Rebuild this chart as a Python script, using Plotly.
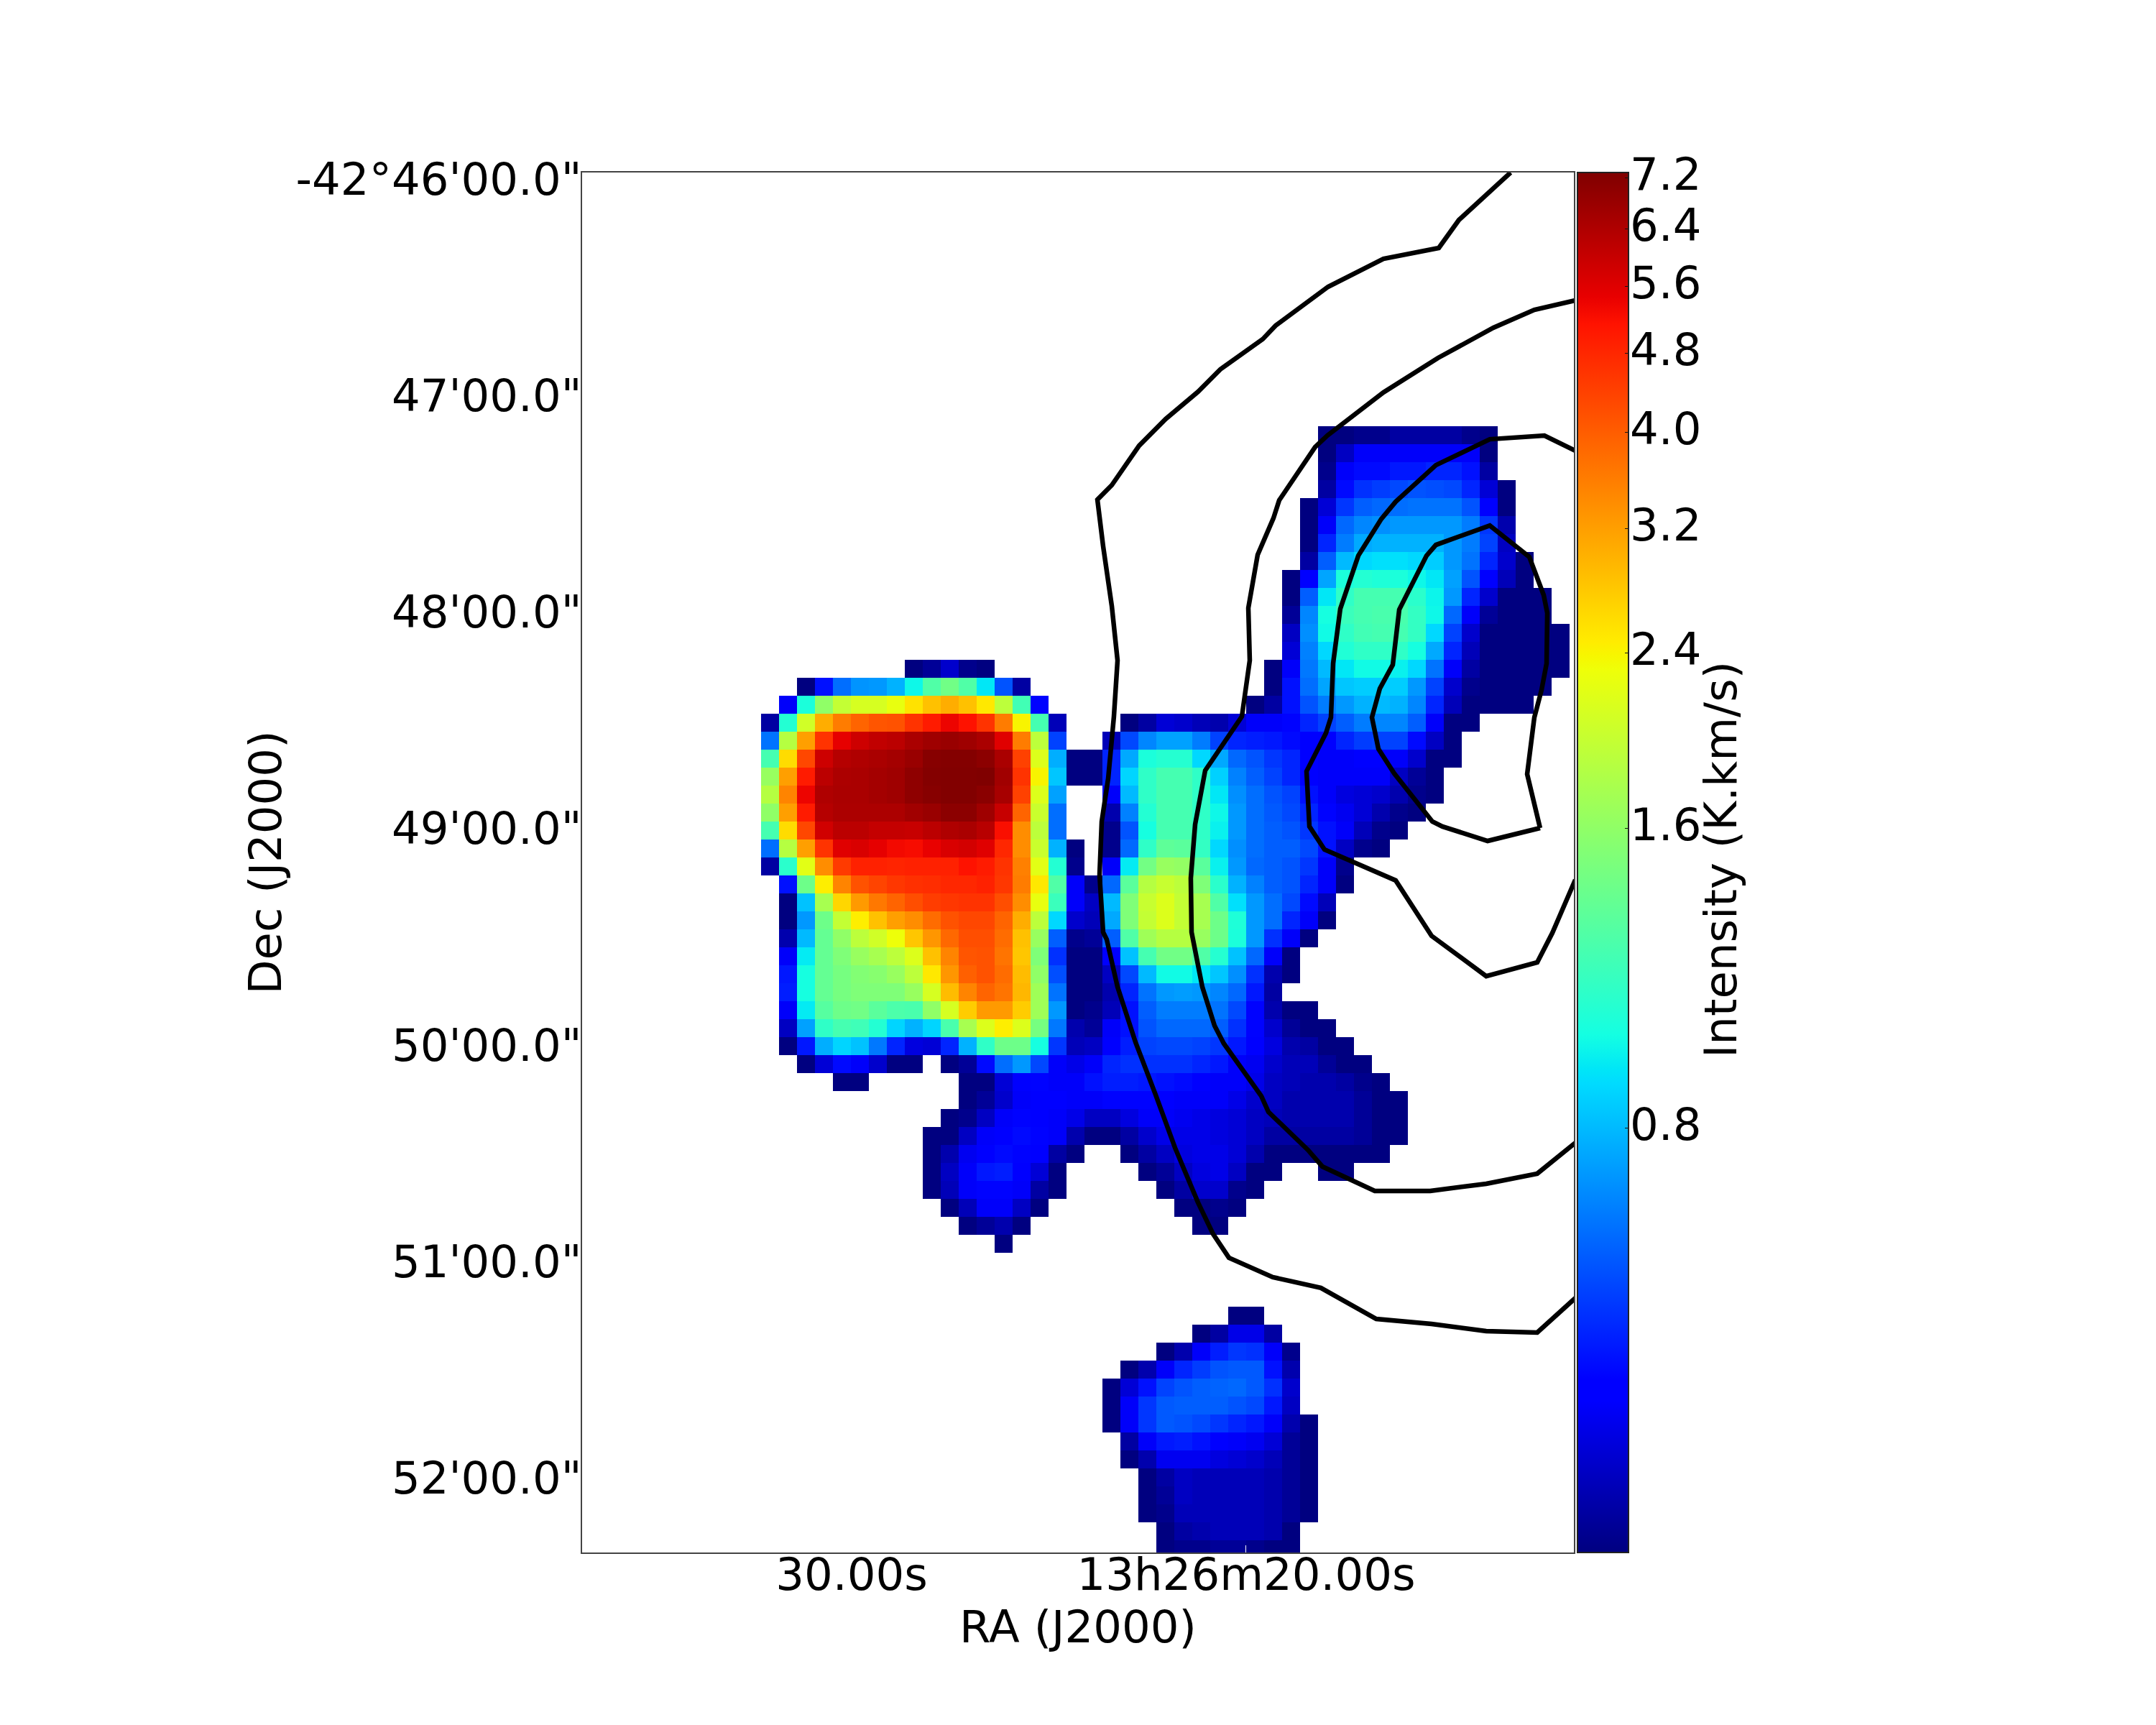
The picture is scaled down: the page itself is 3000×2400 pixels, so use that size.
import math
import plotly.graph_objects as go

N = None
# Integrated intensity (K.km/s), one list per map row, north to south.
rm13 = [.30,.30,.31,.31,.33,.33,.33,.33,.31,.30]
rm12 = [.30,.36,.42,.42,.42,.42,.42,.42,.42,.30]
rm11 = [.31,.42,.46,.46,.48,.48,.5,.5,.47,.33]
rm10 = [.33,.46,.52,.54,.56,.58,.57,.56,.5,.38,.30]
rm9 = [.30,.38,.53,.6,.62,.63,.64,.64,.64,.58,.44,.30]
rm8 = [.30,.42,.62,.68,.7,.72,.72,.72,.72,.66,.53,.34]
rm7 = [.30,.5,.66,.76,.78,.78,.78,.78,.72,.66,.55,.36]
rm6 = [.33,.6,.8,.88,.9,.9,.88,.85,.72,.64,.5,.37,.30]
rm5 = [.30,.44,.75,1.02,1.05,1.03,1.02,.97,.92,.74,.58,.43,.35,.30]
rm4 = [.30,.6,.92,1.1,1.2,1.2,1.2,1.08,.96,.72,.5,.37,.30,.30,.30]
rm3 = [.32,.68,1.0,1.15,1.2,1.22,1.22,1.12,.97,.62,.42,.32,.30,.30,.30]
rm2 = [.36,.7,.98,1.1,1.18,1.2,1.2,1.12,.88,.55,.37,.30,.30,.30,.30,.30]
rm1 = [.38,.67,.88,1.04,1.1,1.1,1.1,1.0,.76,.5,.35,.30,.30,.30,.30,.30]
r0 = [.30,.32,.37,.31,.30] + [N]*15 + [.30,.42,.65,.8,.92,.98,.98,.95,.88,.64,.42,.33,.30,.30,.30,.30,.30]
r1 = [.30,.47,.63,.71,.72,.78,.97,1.25,1.42,1.25,.92,.58,.33] + [N]*13 + [.30,.47,.63,.75,.83,.85,.85,.85,.72,.55,.37,.31,.30,.30,.30,.30]
r2 = [.42,1.02,1.6,1.95,2.1,2.1,2.25,2.55,2.85,3.05,2.85,2.5,1.9,1.18,.45] + [N]*11 + [.30,.33,.47,.58,.66,.72,.78,.80,.78,.68,.5,.35,.30,.30,.30,.30]
r3 = [.33,1.05,2.05,3.05,3.6,3.9,4.1,4.15,4.6,5.0,5.4,5.15,4.6,3.6,2.4,1.2,.35] + [N]*3 + [.30,.33,.38,.37,.35,.34,.38,.42,.42,.45,.5,.55,.6,.66,.68,.68,.6,.42,.30,.30]
r4 = [.64,1.85,3.2,4.6,5.5,5.9,6.1,6.2,6.5,6.7,6.8,6.7,6.5,5.6,3.6,1.9,.55] + [N]*2 + [.35,.56,.68,.74,.74,.66,.55,.50,.49,.48,.46,.44,.44,.5,.54,.55,.55,.46,.36,.30]
r5 = [1.2,2.6,4.3,5.9,6.3,6.4,6.5,6.6,6.8,7.15,7.2,7.2,7.05,6.5,4.4,2.15,.77,.30,.30,.5,.76,1.02,1.06,1.06,.88,.76,.62,.58,.53,.5,.43,.42,.42,.43,.43,.42,.37,.30,.30]
r6 = [1.65,3.2,5.0,6.2,6.45,6.5,6.6,6.7,7.0,7.2,7.25,7.25,7.29,6.65,4.6,2.4,.83,.30,.30,.5,.87,1.1,1.2,1.2,1.1,.86,.67,.6,.55,.5,.43,.42,.42,.42,.42,.36,.32,.30]
r7 = [1.85,3.5,5.4,6.4,6.5,6.5,6.6,6.7,7.0,7.15,7.25,7.25,7.1,6.55,4.4,2.15,.74] + [N]*2 + [.42,.8,1.1,1.2,1.2,1.1,.92,.7,.63,.58,.55,.47,.42,.39,.38,.37,.34,.31,.30]
r8 = [1.6,3.2,5.0,6.3,6.45,6.45,6.45,6.45,6.65,6.8,7.05,7.05,6.7,6.0,3.9,2.0,.63] + [N]*2 + [.34,.67,1.05,1.2,1.2,1.1,.97,.72,.63,.59,.56,.5,.45,.41,.38,.34,.31,.30]
r9 = [1.2,2.6,4.3,5.85,6.2,6.2,6.05,6.05,6.0,6.2,6.4,6.5,6.25,5.2,3.4,1.9,.63] + [N]*2 + [.31,.58,1.0,1.2,1.2,1.1,.95,.72,.63,.6,.58,.53,.47,.42,.35,.31,.30]
r10 = [.63,1.85,3.2,4.6,5.6,5.7,5.5,5.3,5.25,5.45,5.7,5.8,5.6,4.8,3.4,2.0,.78,.30,N,.31,.62,1.1,1.32,1.3,1.12,.88,.7,.63,.6,.6,.56,.47,.36,.31,.30]
r11 = [.33,1.08,2.2,3.4,4.5,4.9,4.9,4.85,4.9,4.9,4.9,5.15,5.0,4.6,3.55,2.2,1.05,.31,N,.42,.93,1.43,1.65,1.62,1.3,.95,.72,.62,.6,.58,.53,.42,.31]
r12 = [.47,1.4,2.45,3.5,4.15,4.35,4.55,4.65,4.7,4.8,4.8,4.9,4.55,3.6,2.5,1.25,.42,.31,.62,1.3,1.85,1.98,1.9,1.5,1.08,.78,.67,.6,.58,.5,.42,.30]
r13 = [.30,.82,1.75,2.65,3.25,3.65,3.9,4.2,4.45,4.55,4.6,4.6,4.2,3.4,2.25,1.15,.42,.36,.8,1.5,1.98,2.15,1.95,1.75,1.25,.9,.72,.63,.56,.46,.35]
r14 = [.30,.72,1.4,1.95,2.45,2.85,3.2,3.4,3.8,4.15,4.3,4.3,3.9,3.05,1.9,.88,.37,.35,.76,1.5,1.95,2.15,1.95,1.75,1.4,1.03,.72,.63,.5,.42,.30]
r15 = [.34,.80,1.35,1.6,1.9,2.05,2.3,2.8,3.3,3.85,4.2,4.2,3.8,2.85,1.65,.6,.31,.32,.6,1.25,1.7,1.85,1.85,1.65,1.4,1.02,.72,.52,.42,.30]
r16 = [.42,.93,1.35,1.5,1.65,1.75,1.9,2.15,2.85,3.5,4.1,4.15,3.7,2.8,1.5,.52,.30,.30,.44,.82,1.2,1.42,1.42,1.25,1.06,.82,.62,.42,.30]
r17 = [.48,1.0,1.35,1.45,1.52,1.55,1.65,1.9,2.5,3.3,3.95,4.15,3.8,2.9,1.6,.57,.30,.30,.36,.56,.8,.98,.98,.92,.83,.7,.52,.34,.30]
r18 = [.49,1.0,1.35,1.45,1.5,1.5,1.5,1.65,2.1,2.9,3.5,3.9,3.7,2.95,1.7,.64,.30,.30,.34,.50,.64,.72,.73,.72,.68,.62,.48,.33]
r19 = [.42,.93,1.28,1.4,1.42,1.3,1.23,1.22,1.6,2.1,2.75,3.25,3.25,2.75,1.7,.72,.30,.31,.35,.47,.6,.66,.66,.66,.64,.56,.45,.34,.30,.30]
r20 = [.36,.74,1.1,1.2,1.17,1.05,.87,.78,.87,1.22,1.75,2.15,2.45,2.15,1.45,.65,.34,.32,.42,.47,.58,.62,.62,.62,.6,.52,.45,.37,.32,.30,.30]
r21 = [.30,.48,.77,.87,.82,.65,.5,.39,.38,.5,.78,1.1,1.4,1.4,1.0,.53,.35,.36,.44,.49,.55,.56,.56,.55,.53,.48,.43,.39,.34,.33,.30,.30]
r22 = [.30,.38,.46,.42,.37,.30,.30,N,.30,.32,.46,.63,.72,.56,.42,.40,.42,.5,.52,.52,.52,.52,.5,.48,.42,.41,.37,.35,.35,.32,.30,.30]
r23 = [.30,.30] + [N]*5 + [.30,.30,.38,.44,.45,.42,.42,.47,.49,.49,.48,.47,.46,.43,.42,.42,.4,.36,.35,.34,.34,.33,.31,.30]
r24 = [.30,.32,.37,.42,.44,.43,.42,.42,.45,.45,.45,.44,.42,.42,.42,.4,.37,.36,.34,.34,.34,.34,.32,.30,.30]
r25 = [.30,.31,.36,.42,.45,.44,.42,.40,.36,.36,.39,.42,.42,.41,.40,.39,.38,.36,.35,.34,.34,.34,.34,.32,.30,.30]
r26 = [.30,.30,.36,.42,.44,.46,.45,.42,.34,.30,.30,.33,.37,.40,.40,.40,.39,.38,.36,.33,.33,.33,.33,.33,.32,.30,.30]
r27 = [.30,.34,.41,.44,.46,.45,.43,.33,.30,N,N,.30,.33,.36,.39,.40,.40,.38,.34,.30,.30,.30,.30,.30,.30,.30]
r28 = [.30,.36,.42,.48,.49,.43,.38,.30] + [N]*4 + [.30,.32,.36,.39,.40,.36,.30,.30,N,N,.30,.30]
r29 = [.30,.35,.42,.45,.45,.42,.33,.30] + [N]*5 + [.30,.33,.37,.37,.31,.30]
r30 = [.30,.35,.42,.42,.36,.30] + [N]*7 + [.30,.30,.31,.30]
r31 = [.30,.32,.34,.30] + [N]*9 + [.30,.30]
r32 = [.30]
r33 = []
r34 = []
r35 = []
r36 = [.30,.30]
r37 = [.30,.33,.40,.40,.33]
r38 = [.30,.34,.42,.49,.53,.52,.42,.31]
r39 = [.30,.34,.42,.50,.54,.58,.59,.59,.47,.34]
r40 = [.30,.38,.47,.55,.58,.6,.61,.62,.59,.52,.37]
r41 = [.30,.42,.53,.59,.6,.6,.6,.58,.56,.48,.36]
r42 = [.30,.42,.53,.59,.58,.56,.53,.5,.48,.42,.34,.30]
r43 = [.33,.42,.48,.49,.47,.44,.42,.41,.38,.32,.30]
r44 = [.30,.34,.41,.41,.41,.39,.38,.37,.35,.32,.30]
r45 = [.30,.33,.36,.35,.35,.35,.35,.34,.32,.30]
r46 = [.30,.32,.36,.35,.35,.35,.35,.34,.32,.30]
r47 = [.30,.31,.35,.35,.35,.35,.35,.34,.32,.30]
r48 = [.30,.33,.34,.35,.35,.35,.34,.30]
r49 = [.30,.31,.31,.32,.32,.31,.30,.30]

map_rows = [rm13,rm12,rm11,rm10,rm9,rm8,rm7,rm6,rm5,rm4,rm3,rm2,rm1,r0,r1,r2,r3,r4,r5,r6,r7,r8,r9,r10,r11,r12,
            r13,r14,r15,r16,r17,r18,r19,r20,r21,r22,r23,r24,r25,r26,r27,r28,r29,r30,r31,r32,r33,r34,r35,
            r36,r37,r38,r39,r40,r41,r42,r43,r44,r45,r46,r47,r48,r49]
row_first_col = [31,31,31,31,30,30,30,30,29,29,29,29,29,8,2,1,0,0,0,0,0,0,0,0,0,1,
                 1,1,1,1,1,1,1,1,1,2,4,11,10,9,9,9,9,10,11,13,0,0,0,
                 26,24,22,20,19,19,19,20,20,21,21,21,22,22]

N_COLS = 45
RA_FIRST_SEC = 32.067     # RA seconds at the first map column
RA_STEP_SEC = -0.4554
DEC_FIRST_MIN = 47.1883   # Dec arcminutes below -42 deg at the first map row
DEC_STEP_MIN = 1 / 12

# Contours: RA seconds past 13h26m, Dec arcminutes past -42 deg
c1_ra = [13.297,14.608,15.118,16.521,17.923,19.253,19.581,20.656,21.22,22.04,22.714,23.406,23.77,23.625,23.406,23.26,23.352,23.497,23.661,23.716,23.625,23.534,23.26,22.805,22.295,21.803,21.22,20.838,20.437,19.326,18.106,16.703,15.301,13.916,12.623,11.658]
c1_dec = [45.97,46.19,46.32,46.37,46.50,46.68,46.743,46.883,46.987,47.113,47.237,47.42,47.487,47.703,47.98,48.233,48.493,48.78,48.98,49.227,49.493,49.527,49.747,50.003,50.247,50.493,50.747,50.893,51.003,51.093,51.143,51.287,51.31,51.343,51.35,51.19]
c2_ra = [11.658,12.696,13.734,15.137,16.521,17.942,18.251,19.162,19.308,19.709,19.945,19.909,20.109,21.038,21.293,21.403,21.384,21.111,20.801,20.565,19.617,19.435,18.434,18.069,16.74,15.337,13.916,12.623,11.658]
c2_dec = [46.563,46.607,46.69,46.83,46.99,47.19,47.243,47.49,47.573,47.743,47.99,48.233,48.493,48.743,48.993,49.243,49.493,49.747,49.927,50.01,50.253,50.327,50.503,50.58,50.693,50.693,50.66,50.613,50.47]
c3_ra = [11.658,12.441,13.825,15.191,16.211,16.576,17.158,17.614,17.796,17.851,17.978,18.47,18.397,18.015,16.211,15.301,13.916,12.623,12.24,11.658]
c3_dec = [47.26,47.19,47.207,47.327,47.497,47.577,47.747,47.993,48.247,48.497,48.57,48.747,49.003,49.11,49.253,49.51,49.697,49.633,49.497,49.25]
c4_ra = [12.55,12.878,12.696,12.514,12.386,12.368,12.459,12.823,13.825,15.191,15.428,16.12,16.284,16.612,16.812,16.648,16.248,15.282,15.027,13.88,12.55]
c4_dec = [49.01,48.76,48.497,48.37,48.247,48.013,47.93,47.753,47.607,47.697,47.747,47.997,48.253,48.363,48.497,48.643,48.757,48.98,49.003,49.07,49.01]

ra_ticks = [30, 20]
ra_labels = ["30.00s", "13h26m20.00s"]
dec_ticks = [46, 47.005, 48.008, 49.012, 50.016, 51.02, 52.024]
dec_labels = ["-42°46'00.0\"", "47'00.0\"", "48'00.0\"", "49'00.0\"", "50'00.0\"", "51'00.0\"", "52'00.0\""]
cbar_ticks = [0.8, 1.6, 2.4, 3.2, 4.0, 4.8, 5.6, 6.4, 7.2]
V_MIN, V_MAX = 0.30, 7.29

FONT = "DejaVu Sans"
FS = 62.5

jet = [
    [0.0, "rgb(0,0,128)"], [0.11, "rgb(0,0,255)"], [0.125, "rgb(0,0,255)"], [0.34, "rgb(0,219,255)"],
    [0.35, "rgb(0,230,247)"], [0.375, "rgb(20,255,226)"], [0.64, "rgb(239,255,8)"], [0.65, "rgb(247,246,0)"],
    [0.66, "rgb(255,236,0)"], [0.89, "rgb(255,19,0)"], [0.91, "rgb(232,0,0)"], [1.0, "rgb(128,0,0)"],
]

z = []
for first, vals in zip(row_first_col, map_rows):
    line = [None] * N_COLS
    for i, v in enumerate(vals):
        if v is not None:
            line[first + i] = math.log10(v)
    z.append(line)

fig = go.Figure()
fig.add_trace(go.Heatmap(
    z=z, x0=RA_FIRST_SEC, dx=RA_STEP_SEC, y0=DEC_FIRST_MIN, dy=DEC_STEP_MIN,
    colorscale=jet, zmin=math.log10(V_MIN), zmax=math.log10(V_MAX), hoverongaps=False,
    colorbar=dict(
        x=1.00362, xanchor="left", y=0.5, yanchor="middle", len=1, lenmode="fraction",
        thickness=71, thicknessmode="pixels", xpad=0, ypad=0,
        outlinewidth=2, outlinecolor="#222",
        tickmode="array", tickvals=[math.log10(v) for v in cbar_ticks],
        showticklabels=False,
        ticks="inside", ticklen=6, tickwidth=1, tickcolor="#111",
    ),
))
for xs, ys in [(c1_ra, c1_dec), (c2_ra, c2_dec), (c3_ra, c3_dec), (c4_ra, c4_dec)]:
    fig.add_trace(go.Scatter(x=xs, y=ys, mode="lines", showlegend=False,
                             line=dict(color="black", width=6.5), hoverinfo="skip"))

# Colour-bar tick labels sit closer to the bar than the bar's own labels can.
cbar_annotations = [
    dict(text=f"{v:.1f}", xref="paper", yref="paper", x=1.0565,
         y=math.log(v / V_MIN) / math.log(V_MAX / V_MIN), yshift=5,
         xanchor="left", yanchor="middle", showarrow=False, borderpad=0, borderwidth=0,
         font=dict(family=FONT, size=FS, color="black"))
    for v in cbar_ticks
]

fig.update_layout(
    width=2992, height=2392, autosize=False,
    margin=dict(l=802, r=810, t=232, b=240, pad=0),
    paper_bgcolor="white", plot_bgcolor="white",
    font=dict(family=FONT, size=FS, color="black"),
    showlegend=False,
    annotations=cbar_annotations + [
        dict(text="Intensity (K.km/s)", xref="paper", yref="paper", x=1.1478, y=0.502,
             xanchor="center", yanchor="middle", textangle=-90, showarrow=False,
             font=dict(family=FONT, size=FS, color="black"))],
)
fig.update_xaxes(
    range=[36.83, 11.694], tickmode="array", tickvals=ra_ticks, ticktext=ra_labels,
    ticks="inside", ticklen=10, tickwidth=1, tickcolor="white", ticklabelstandoff=-25,
    showgrid=False, zeroline=False, showline=True, linecolor="#444", linewidth=2, mirror=True,
    tickfont=dict(family=FONT, size=FS), title=dict(text="RA (J2000)", font=dict(family=FONT, size=FS), standoff=4),
)
fig.update_yaxes(
    range=[52.37, 45.97], tickmode="array", tickvals=dec_ticks, ticktext=dec_labels,
    ticks="", ticklabelstandoff=-14, showgrid=False, zeroline=False, showline=True, linecolor="#444", linewidth=2, mirror=True,
    tickfont=dict(family=FONT, size=FS), title=dict(text="Dec (J2000)", font=dict(family=FONT, size=FS), standoff=0),
)
fig.write_html("out.html")
